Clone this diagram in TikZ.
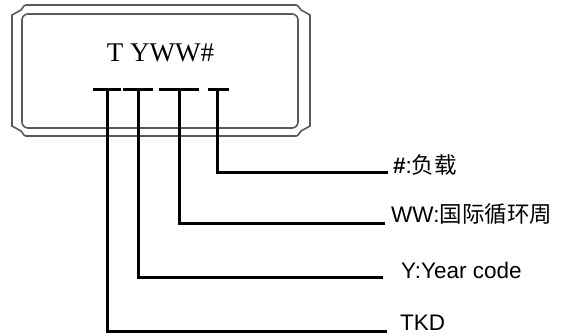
\documentclass[tikz,border=0pt]{standalone}
\usepackage{fontspec}
\setmainfont{Liberation Sans}
\newfontfamily\tms{Liberation Serif}
\newfontfamily\cjk{Noto Sans CJK SC}
\begin{document}
\begin{tikzpicture}[x=1pt,y=-1pt,
  frame/.style={draw=black!65,line width=1.6pt},
  conn/.style={draw=black,line width=3pt},
  bar/.style={draw=black,line width=3pt},
  lab/.style={anchor=base west,inner sep=0pt,font=\fontsize{22.5}{24}\selectfont}]
\useasboundingbox (0,0) rectangle (564,335);
% package outline
\draw[frame] (12,15) -- (21,10) .. controls (23,9) and (23,5) .. (26,5)
  -- (296,5) .. controls (299,5) and (299,9) .. (301,10) -- (310,15)
  -- (310,126) -- (301,131) .. controls (299,132) and (299,136) .. (296,136)
  -- (26,136) .. controls (23,136) and (23,132) .. (21,131) -- (12,126) -- cycle;
\draw[frame,rounded corners=6pt] (22,14) rectangle (298,128);
% marking
\node[anchor=base,inner sep=0pt,font=\tms\fontsize{27}{28}\selectfont] (mark) at (160.5,61) {T YWW\#};
% bars
\coordinate (b1l) at (93,89);  \coordinate (b1r) at (121,89); \coordinate (s1) at (107,89);
\coordinate (b2l) at (123,89); \coordinate (b2r) at (153,89); \coordinate (s2) at (138,89);
\coordinate (b3l) at (159,89); \coordinate (b3r) at (199,89); \coordinate (s3) at (179,89);
\coordinate (b4l) at (208,89); \coordinate (b4r) at (229,89); \coordinate (s4) at (217,89);
\draw[bar] (b1l) -- (b1r);
\draw[bar] (b2l) -- (b2r);
\draw[bar] (b3l) -- (b3r);
\draw[bar] (b4l) -- (b4r);
% line ends
\coordinate (e4) at (388,172);
\coordinate (e3) at (385,223);
\coordinate (e2) at (383,277);
\coordinate (e1) at (387,331);
\draw[conn] (s4) |- (e4);
\draw[conn] (s3) |- (e3);
\draw[conn] (s2) |- (e2);
\draw[conn] (s1) |- (e1);
% labels
\node[lab] (l4) at (393,173) {\textbf{\#}:{\cjk 负载}};
\node[lab] (l3) at (391,222) {WW:{\cjk 国际循环周}};
\node[lab] (l2) at (401,278) {Y:Year code};
\node[lab] (l1) at (400,330.5) {TKD};
\end{tikzpicture}
\end{document}
